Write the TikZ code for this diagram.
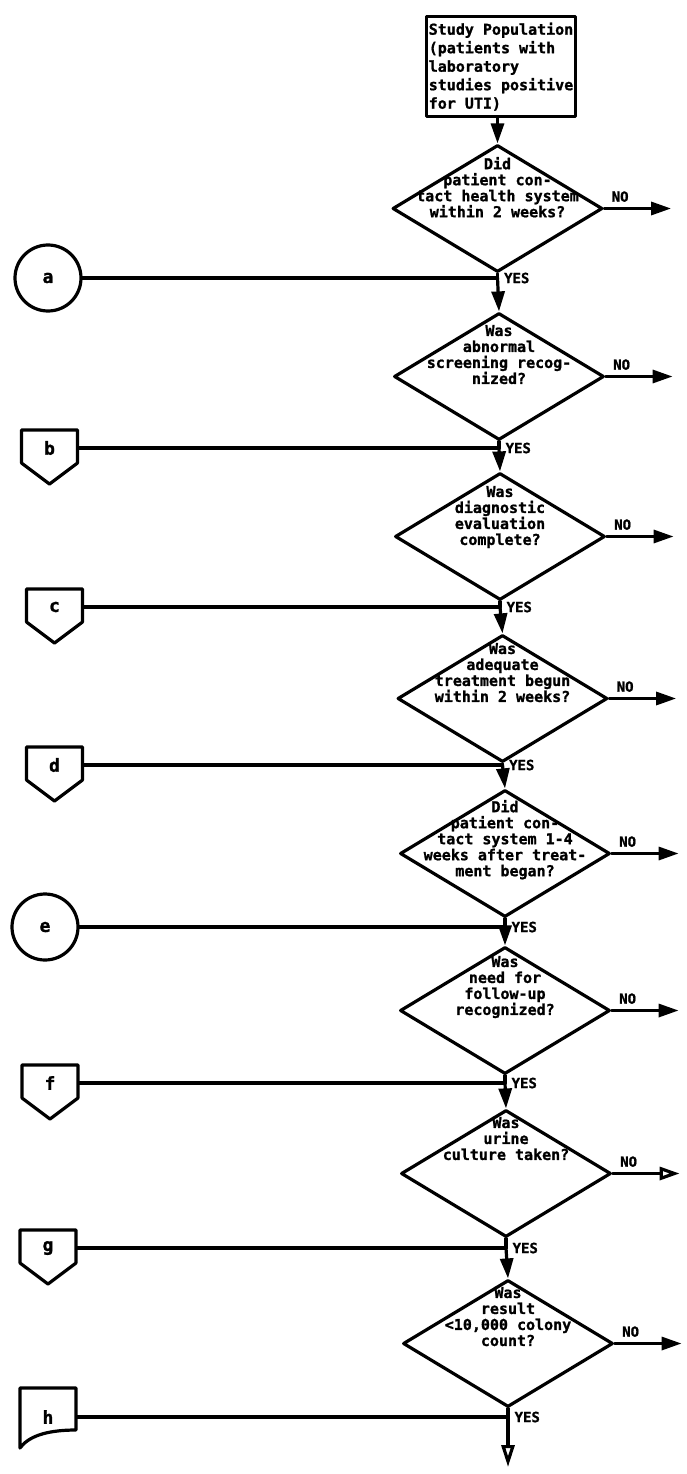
\documentclass[tikz,border=0pt]{standalone}
\usepackage{fontspec}
\newfontfamily\chartfont{DejaVu Sans Mono}[BoldFeatures={FakeBold=1.2}]
\usetikzlibrary{shapes.geometric,arrows.meta,positioning}
\begin{document}
\begin{tikzpicture}[x=1pt,y=-1pt,line join=round,line cap=round,line width=3.2pt,>={Triangle[length=20pt,width=13pt]}]
	\tikzset{every node/.style={font=\chartfont\bfseries\fontsize{15}{16}\selectfont},
		question/.style={diamond,draw,minimum width=210pt,minimum height=127pt,inner sep=0pt},
		qtext/.style={align=center,inner sep=0pt},
		startbox/.style={draw,rectangle,align=left,inner xsep=2pt,inner ysep=3pt,minimum height=100pt,font=\chartfont\bfseries\fontsize{15}{18.5}\selectfont},
		ringconn/.style={circle,draw,minimum size=66pt,inner sep=0pt,font=\chartfont\bfseries\fontsize{18}{18}\selectfont},
		pageconn/.style={minimum width=56pt,inner sep=0pt,font=\chartfont\bfseries\fontsize{18}{18}\selectfont},
		answer/.style={inner sep=0pt,font=\chartfont\bfseries\fontsize{14}{14}\selectfont},
		solidtip/.style={->},
		opentip/.style={-{Triangle[open,length=20pt,width=13pt]}}}
	\fill[white] (0,0) rectangle (687,1474);
	\useasboundingbox (0,0) rectangle (687,1474);
	\node[startbox,anchor=north] (pop) at (501,15) {Study Population\\(patients with\\laboratory\\studies positive\\for UTI)};
	\foreach \n/\x/\y in {1/497.5/208.5,2/499/376.5,3/500/536.5,4/502.5/698.5,5/505/853.5,6/505/1010.5,7/506/1173.5,8/508/1343.5}
	\node[question] (q\n) at (\x,\y) {};
	\node[qtext,below=12pt of q1.north] (t1) {Did\\patient con-\\tact health system\\within 2 weeks?};
	\node[qtext,below=12pt of q2.north] (t2) {Was\\abnormal\\screening recog-\\nized?};
	\node[qtext,below=13pt of q3.north] (t3) {Was\\diagnostic\\evaluation\\complete?};
	\node[qtext,below=8pt of q4.north] (t4) {Was\\adequate\\treatment begun\\within 2 weeks?};
	\node[qtext,below=10pt of q5.north] (t5) {Did\\patient con-\\tact system 1-4\\weeks after treat-\\ment began?};
	\node[qtext,below=9pt of q6.north] (t6) {Was\\need for\\follow-up\\recognized?};
	\node[qtext,below=7pt of q7.north] (t7) {Was\\urine\\culture taken?};
	\node[qtext,below=7pt of q8.north] (t8) {Was\\result\\<10,000 colony\\count?};
	\node[ringconn] (a) at (48,278) {a};
	\node[ringconn] (e) at (45,927) {e};
	\foreach \n/\x/\y in {b/49.5/448,c/54.5/607,d/54.5/765,f/50/1083,g/48/1248}{
		\node[pageconn] (\n) at (\x,\y) {\n};
		\draw (\x-28,\y-18) -- (\x+28,\y-18) -- (\x+28,\y+15) -- (\x,\y+36) -- (\x-28,\y+15) -- cycle;
	}
	\node[pageconn] (h) at (48,1417) {h};
	\draw (20,1388) -- (76,1388) -- (76,1430) .. controls (45,1430) and (28,1437) .. (20,1448) -- cycle;
	\draw[->] (q1.north |- pop.south) -- (q1.north);
	\foreach \c/\n in {a/1,b/2,c/3,d/4,e/5,f/6,g/7,h/8}{
		\coordinate (j\c) at (q\n.south |- \c.east);
		\draw (q\n.south) -- (j\c);
		\draw (\c) -- (j\c);
		\node[answer,right=5pt of j\c] (yes\c) {YES};
	}
	\foreach \c/\n in {a/2,b/3,c/4,d/5,e/6,f/7,g/8}
	\draw[->] (j\c) -- (q\n.north);
	\coordinate (fin) at ([yshift=-50pt]jh);
	\draw[-{Triangle[open,length=22pt,width=13pt]}] (jh) -- (fin);
	\foreach \n/\s in {1/solidtip,2/solidtip,3/solidtip,4/solidtip,5/solidtip,6/solidtip,7/opentip,8/solidtip}{
		\coordinate (no\n) at ([xshift=67pt]q\n.east);
		\draw[\s] (q\n.east) -- (no\n);
		\node[answer,anchor=south west] (nl\n) at ([xshift=6pt,yshift=5pt]q\n.east) {NO};
	}
\end{tikzpicture}
\end{document}
